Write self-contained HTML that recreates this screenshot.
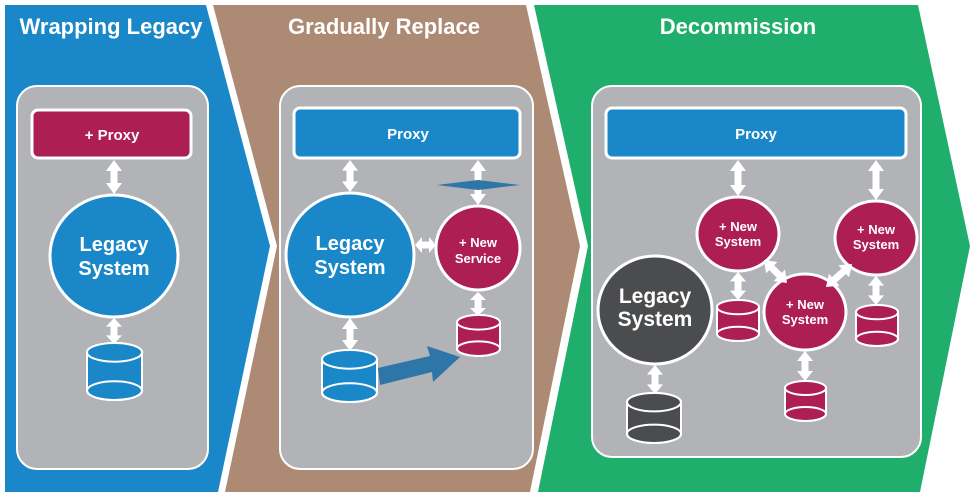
<!DOCTYPE html>
<html><head><meta charset="utf-8"><style>
html,body{margin:0;padding:0;background:#fff;width:975px;height:498px;overflow:hidden}
svg{display:block}
text{font-family:"Liberation Sans",sans-serif;font-weight:bold;fill:#fff;text-anchor:middle}
</style></head><body>
<svg id="s" width="975" height="498" viewBox="0 0 975 498" xmlns="http://www.w3.org/2000/svg">
<rect width="975" height="498" fill="#fff"/>
<polygon points="5,5 206,5 270,246 218,492 5,492" fill="#1a88c8"/>
<polygon points="213,5 526,5 580,246 530,492 225,492 277,246" fill="#ad8a73"/>
<polygon points="534,5 918,5 970,246 920,492 538,492 588,246" fill="#1fae6b"/>
<text x="111" y="34" font-size="22">Wrapping Legacy</text>
<text x="384" y="34" font-size="22">Gradually Replace</text>
<text x="738" y="34" font-size="22">Decommission</text>

<rect x="17" y="86" width="191" height="383" rx="20" fill="#b1b3b6" stroke="#fff" stroke-width="2"/>
<rect x="280" y="86" width="253" height="383" rx="20" fill="#b1b3b6" stroke="#fff" stroke-width="2"/>
<rect x="592" y="86" width="329" height="371" rx="20" fill="#b1b3b6" stroke="#fff" stroke-width="2"/>

<rect x="32" y="110" width="159" height="48" rx="6" fill="#ad1f52" stroke="#fff" stroke-width="3"/>
<text x="112" y="140" font-size="15">+ Proxy</text>
<rect x="294" y="108" width="226" height="50" rx="6" fill="#1a88c8" stroke="#fff" stroke-width="3"/>
<text x="408" y="139" font-size="15">Proxy</text>
<rect x="606" y="108" width="300" height="50" rx="6" fill="#1a88c8" stroke="#fff" stroke-width="3"/>
<text x="756" y="139" font-size="15">Proxy</text>

<ellipse cx="114" cy="256" rx="64" ry="61" fill="#1a88c8" stroke="#fff" stroke-width="3"/>
<text x="114" y="251" font-size="20">Legacy</text><text x="114" y="275" font-size="20">System</text>
<ellipse cx="350" cy="255" rx="64" ry="62" fill="#1a88c8" stroke="#fff" stroke-width="3"/>
<text x="350" y="250" font-size="20">Legacy</text><text x="350" y="274" font-size="20">System</text>
<circle cx="478" cy="248" r="42" fill="#ad1f52" stroke="#fff" stroke-width="3"/>
<text x="478" y="247" font-size="13">+ New</text><text x="478" y="263" font-size="13">Service</text>
<ellipse cx="655" cy="310" rx="57" ry="54" fill="#4b4c4e" stroke="#fff" stroke-width="3"/>
<text x="655" y="303" font-size="21">Legacy</text><text x="655" y="326" font-size="21">System</text>
<ellipse cx="738" cy="234" rx="41" ry="37" fill="#ad1f52" stroke="#fff" stroke-width="3"/>
<text x="738" y="231" font-size="13">+ New</text><text x="738" y="246" font-size="13">System</text>
<ellipse cx="876" cy="238" rx="41" ry="37" fill="#ad1f52" stroke="#fff" stroke-width="3"/>
<text x="876" y="234" font-size="13">+ New</text><text x="876" y="249" font-size="13">System</text>
<ellipse cx="805" cy="312" rx="41" ry="38" fill="#ad1f52" stroke="#fff" stroke-width="3"/>
<text x="805" y="309" font-size="13">+ New</text><text x="805" y="324" font-size="13">System</text>

<g id="arrows" fill="#fff"></g>
<polygon points="437,185 478,180 520,185 478,190" fill="#2e75a8"/>
<polygon points="378,368 430,356 427,346 460,357 433,382 432,372 380,385" fill="#2e75a8"/>
<g id="cyl"></g>
</svg>
<script>
var NS="http://www.w3.org/2000/svg";
function dbl(x1,y1,x2,y2){var dx=x2-x1,dy=y2-y1,L=Math.hypot(dx,dy),a=Math.atan2(dy,dx)*180/Math.PI;
var h=Math.min(11,L/3),w=8,s=3.5;
var p=document.createElementNS(NS,"polygon");
p.setAttribute("points",[[0,0],[h,-w],[h,-s],[L-h,-s],[L-h,-w],[L,0],[L-h,w],[L-h,s],[h,s],[h,w]].map(function(q){return q.join(",")}).join(" "));
p.setAttribute("transform","translate("+x1+","+y1+") rotate("+a+")");document.getElementById("arrows").appendChild(p);}
[[114,160,114,194],[114,318,114,344],[350,160,350,192],[350,318,350,351],[478,160,478,205],[478,292,478,316],[415,245,436,245],
[738,160,738,196],[876,160,876,200],[738,272,738,300],[876,276,876,305],[805,351,805,381],[655,365,655,394],[764,260,787,283],[852,264,826,287]].forEach(function(a){dbl.apply(null,a)});
function cyl(x,y,w,h,c){var g=document.getElementById("cyl");var ry=w*0.17;
var p=document.createElementNS(NS,"path");
p.setAttribute("d","M"+x+","+(y+ry)+" L"+x+","+(y+h-ry)+" A"+(w/2)+","+ry+" 0 0 0 "+(x+w)+","+(y+h-ry)+" L"+(x+w)+","+(y+ry)+" A"+(w/2)+","+ry+" 0 0 0 "+x+","+(y+ry)+"Z");
p.setAttribute("fill",c);p.setAttribute("stroke","#fff");p.setAttribute("stroke-width","2");g.appendChild(p);
var e=document.createElementNS(NS,"ellipse");e.setAttribute("cx",x+w/2);e.setAttribute("cy",y+ry);e.setAttribute("rx",w/2);e.setAttribute("ry",ry);
e.setAttribute("fill",c);e.setAttribute("stroke","#fff");e.setAttribute("stroke-width","2");g.appendChild(e);
var e2=e.cloneNode();e2.setAttribute("cy",y+h-ry);e2.setAttribute("fill","none");g.appendChild(e2);}
cyl(87,343,55,57,"#1a88c8");cyl(322,350,55,52,"#1a88c8");cyl(457,315,43,41,"#ad1f52");
cyl(717,300,42,41,"#ad1f52");cyl(856,305,42,41,"#ad1f52");cyl(785,381,41,40,"#ad1f52");cyl(627,393,54,50,"#4b4c4e");
</script>
</body></html>
